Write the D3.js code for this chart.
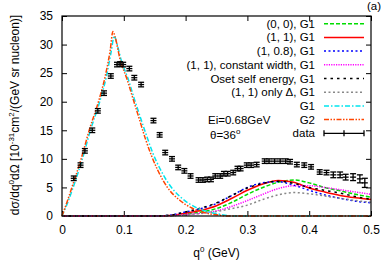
<!DOCTYPE html>
<html>
<head>
    <meta charset="utf-8">
    <script src="https://d3js.org/d3.v7.min.js"></script>
    <style>
        body { margin: 0px; background: #fff; }
        text { font-family: "Liberation Sans", Arial, sans-serif; fill: #000; }
        .tick text { font-size: 12px; }
        .legend text { font-size: 11.5px; }
    </style>
</head>
<body>
    <svg width="385" height="271"></svg>
    <script>
        // experimental points (q0 in GeV, cross section) and their errors
        const dataQ = [0.019, 0.030, 0.037, 0.049, 0.058, 0.068, 0.079, 0.089, 0.094, 0.099, 0.109, 0.117, 0.128,
            0.148, 0.158, 0.167, 0.178, 0.188, 0.198, 0.208, 0.221, 0.228, 0.235, 0.241, 0.248, 0.256, 0.262,
            0.268, 0.277, 0.284, 0.289, 0.299, 0.306, 0.315, 0.328, 0.335, 0.344, 0.353, 0.362, 0.369, 0.380,
            0.392, 0.403, 0.417, 0.428, 0.439, 0.450, 0.459, 0.471, 0.482, 0.490];
        const dataV = [6.6, 8.9, 11.4, 15.0, 18.4, 21.5, 24.5, 26.5, 26.6, 26.5, 25.8, 24.2, 23.0,
            16.7, 14.2, 11.1, 10.0, 8.5, 7.9, 7.0, 6.3, 6.3, 6.4, 6.4, 7.0, 7.0, 7.4,
            7.4, 7.6, 8.3, 8.3, 8.9, 8.9, 9.0, 9.6, 9.6, 9.6, 9.6, 9.6, 9.5, 9.0,
            8.9, 8.6, 7.7, 7.6, 7.2, 7.2, 6.8, 6.8, 6.5, 5.8];
        const dataErr = [0.4, 0.4, 0.4, 0.4, 0.4, 0.4, 0.4, 0.4, 0.4, 0.4, 0.4, 0.4, 0.4,
            0.4, 0.4, 0.4, 0.4, 0.4, 0.4, 0.4, 0.4, 0.4, 0.4, 0.4, 0.4, 0.4, 0.4,
            0.4, 0.4, 0.4, 0.4, 0.4, 0.4, 0.4, 0.4, 0.4, 0.4, 0.4, 0.4, 0.4, 0.4,
            0.4, 0.4, 0.4, 0.4, 0.5, 0.5, 0.5, 0.6, 0.7, 0.8];

        // quasielastic peak curves
        const g2Q = [0, 0.008, 0.016, 0.031, 0.044, 0.059, 0.070, 0.078, 0.0824, 0.086, 0.094, 0.105, 0.115, 0.125,
            0.135, 0.145, 0.155, 0.170, 0.190, 0.210, 0.230, 0.250, 0.270, 0.500];
        const g2V = [0, 2.4, 5, 10, 15, 20, 24.5, 29, 32.3, 31.3, 27.4, 24, 20.5, 17,
            13.5, 10.5, 8.0, 5.1, 2.8, 1.4, 0.6, 0.2, 0, 0];
        const g1Q = [0, 0.009, 0.018, 0.033, 0.046, 0.061, 0.072, 0.080, 0.0845, 0.088, 0.096, 0.107, 0.117, 0.127,
            0.137, 0.147, 0.158, 0.173, 0.193, 0.215, 0.235, 0.255, 0.275, 0.500];
        const g1V = [0, 2.3, 5, 10, 15, 20, 24.5, 29, 31.5, 30.5, 27.2, 24, 20.5, 17.2,
            14, 11, 8.4, 5.6, 3.2, 1.6, 0.8, 0.3, 0, 0];

        // delta region curves
        const deltaQ = [0, 0.15, 0.175, 0.2, 0.225, 0.25, 0.275, 0.3, 0.325, 0.35, 0.375, 0.4, 0.425, 0.45, 0.475, 0.5];
        const v00 = [0, 0, 0.05, 0.3, 0.7, 1.3, 2.4, 3.8, 5.0, 5.9, 6.3, 5.8, 5.0, 4.4, 3.8, 3.3];
        const v11 = [0, 0, 0.1, 0.5, 1.0, 1.8, 3.1, 4.5, 5.6, 6.2, 5.9, 4.9, 4.2, 3.6, 3.2, 2.9];
        const v108 = [0, 0, 0.15, 0.7, 1.3, 2.2, 3.6, 5.0, 5.8, 6.0, 5.4, 4.5, 3.7, 3.1, 2.6, 2.3];
        const vConst = [0, 0, 0.05, 0.25, 0.5, 0.9, 1.7, 2.7, 3.8, 4.8, 5.3, 5.3, 5.0, 4.6, 4.2, 3.8];
        const vOset = [0, 0, 0.15, 0.7, 1.4, 2.3, 3.6, 4.9, 5.7, 6.1, 5.7, 5.0, 4.5, 4.0, 3.4, 2.9];
        const vDelta = [0, 0, 0.05, 0.2, 0.45, 0.8, 1.3, 1.9, 2.9, 3.7, 4.1, 3.9, 3.5, 3.1, 2.7, 2.4];

        const xTicks = [0, 0.1, 0.2, 0.3, 0.4, 0.5];
        const yTicks = [0, 5, 10, 15, 20, 25, 30, 35];

        const series = [
            { label: '(0, 0), G1', q: deltaQ, v: v00, color: '#00dd00', dash: '4,2' },
            { label: '(1, 1), G1', q: deltaQ, v: v11, color: '#ff0000', dash: null },
            { label: '(1, 0.8), G1', q: deltaQ, v: v108, color: '#0000ff', dash: '2,2.5' },
            { label: '(1, 1), constant width, G1', q: deltaQ, v: vConst, color: '#ff00ff', dash: '1.2,1.2' },
            { label: 'Oset self energy, G1', q: deltaQ, v: vOset, color: '#000000', dash: '2.5,4' },
            { label: '(1, 1) only \u0394, G1', q: deltaQ, v: vDelta, color: '#888888', dash: '2,2.5' },
            { label: 'G1', q: g1Q, v: g1V, color: '#00e5ee', dash: '5,2,1.5,2' },
            { label: 'G2', q: g2Q, v: g2V, color: '#ff4500', dash: '5,1.5,1.5,1.5,1.5,1.5' }
        ];

        const margin = { left: 62, right: 14, top: 16, bottom: 55 };
        const svg = d3.select('svg');
        const width = +svg.attr('width');
        const height = +svg.attr('height');
        const innerWidth = width - margin.left - margin.right;
        const innerHeight = height - margin.top - margin.bottom;

        const g = svg.append('g')
            .attr('transform', `translate(${margin.left},${margin.top})`);

        const xScale = d3.scaleLinear().domain([0, 0.5]).range([0, innerWidth]);
        const yScale = d3.scaleLinear().domain([0, 35]).range([innerHeight, 0]);

        // axes, ticks pointing inward, mirrored on top and right
        const axisStyle = sel => {
            sel.select('.domain').remove();
            sel.selectAll('.tick line').attr('stroke', '#000');
        };
        const noLabels = sel => sel.selectAll('.tick text').remove();
        g.append('g').attr('transform', `translate(0,${innerHeight})`)
            .call(d3.axisBottom(xScale).tickValues(xTicks).tickSize(-5).tickPadding(9).tickFormat(d3.format('')))
            .call(axisStyle);
        g.append('g')
            .call(d3.axisTop(xScale).tickValues(xTicks).tickSize(-5))
            .call(axisStyle).call(noLabels);
        g.append('g')
            .call(d3.axisLeft(yScale).tickValues(yTicks).tickSize(-5).tickPadding(9))
            .call(axisStyle);
        g.append('g').attr('transform', `translate(${innerWidth},0)`)
            .call(d3.axisRight(yScale).tickValues(yTicks).tickSize(-5))
            .call(axisStyle).call(noLabels);

        // curves
        const line = d3.line()
            .x(d => xScale(d[0]))
            .y(d => yScale(d[1]))
            .curve(d3.curveMonotoneX);

        const plot = g.append('g');
        series.forEach(s => {
            const pts = s.q.map((q, i) => [q, s.v[i]]);
            plot.append('path')
                .datum(pts)
                .attr('fill', 'none')
                .attr('stroke', s.color)
                .attr('stroke-width', 1.5)
                .attr('stroke-dasharray', s.dash)
                .attr('d', line);
        });

        // data with error bars
        const capW = 3;
        const pts = dataQ.map((q, i) => ({ q: q, v: dataV[i], e: dataErr[i] }));
        const bars = plot.selectAll('.eb').data(pts).enter().append('g')
            .attr('stroke', '#000').attr('stroke-width', 1.3);
        bars.append('line')
            .attr('x1', d => xScale(d.q)).attr('x2', d => xScale(d.q))
            .attr('y1', d => yScale(d.v - d.e)).attr('y2', d => yScale(d.v + d.e));
        bars.append('line')
            .attr('x1', d => xScale(d.q) - capW).attr('x2', d => xScale(d.q) + capW)
            .attr('y1', d => yScale(d.v - d.e)).attr('y2', d => yScale(d.v - d.e));
        bars.append('line')
            .attr('x1', d => xScale(d.q) - capW).attr('x2', d => xScale(d.q) + capW)
            .attr('y1', d => yScale(d.v + d.e)).attr('y2', d => yScale(d.v + d.e));
        bars.append('line')
            .attr('x1', d => xScale(d.q) - capW).attr('x2', d => xScale(d.q) + capW)
            .attr('y1', d => yScale(d.v)).attr('y2', d => yScale(d.v));

        // frame
        g.append('rect')
            .attr('width', innerWidth).attr('height', innerHeight)
            .attr('fill', 'none').attr('stroke', '#000').attr('stroke-width', 1.2);

        // legend
        const legend = svg.append('g').attr('class', 'legend');
        const legX = 315, sx1 = 324, sx2 = 364, legY0 = 23.7, legDy = 13.7;
        const legendRows = series.map(s => s).concat([{ label: 'data', data: true }]);
        legendRows.forEach((s, i) => {
            const y = legY0 + i * legDy;
            legend.append('text')
                .attr('x', legX).attr('y', y + 4)
                .attr('text-anchor', 'end')
                .text(s.label);
            if (s.data) {
                legend.append('line').attr('x1', sx1).attr('x2', sx2).attr('y1', y).attr('y2', y)
                    .attr('stroke', '#000').attr('stroke-width', 1.3);
                [sx1, (sx1 + sx2) / 2, sx2].forEach(x => {
                    legend.append('line').attr('x1', x).attr('x2', x).attr('y1', y - 3).attr('y2', y + 3)
                        .attr('stroke', '#000').attr('stroke-width', 1.3);
                });
            } else {
                legend.append('line').attr('x1', sx1).attr('x2', sx2).attr('y1', y).attr('y2', y)
                    .attr('stroke', s.color).attr('stroke-width', 1.5)
                    .attr('stroke-dasharray', s.dash);
            }
        });

        legend.append('text').attr('x', 208).attr('y', legY0 + 7 * legDy + 4).text('Ei=0.68GeV');
        const th = legend.append('text').attr('x', 210).attr('y', legY0 + 8 * legDy + 6);
        th.append('tspan').text('\u03b8=36');
        th.append('tspan').attr('dy', -5).attr('font-size', '8px').text('o');

        svg.append('text').attr('x', 367).attr('y', 10).style('font-size', '11.5px').text('(a)');

        // axis labels
        const xl = svg.append('text')
            .attr('x', margin.left + innerWidth / 2).attr('y', 257)
            .attr('text-anchor', 'middle').style('font-size', '12px');
        xl.append('tspan').text('q');
        xl.append('tspan').attr('dy', -5).style('font-size', '8px').text('0');
        xl.append('tspan').attr('dy', 5).text(' (GeV)');

        const yl = svg.append('text')
            .attr('transform', `translate(19,${margin.top + innerHeight / 2 - 1}) rotate(-90)`)
            .attr('text-anchor', 'middle').style('font-size', '12px');
        yl.append('tspan').text('d\u03c3/dq');
        yl.append('tspan').attr('dy', -5).style('font-size', '8px').text('0');
        yl.append('tspan').attr('dy', 5).text('d\u03a9 [10');
        yl.append('tspan').attr('dy', -5).style('font-size', '8px').text('-31');
        yl.append('tspan').attr('dy', 5).text('cm');
        yl.append('tspan').attr('dy', -5).style('font-size', '8px').text('2');
        yl.append('tspan').attr('dy', 5).text('/(GeV sr nucleon)]');
    </script>
</body>
</html>
